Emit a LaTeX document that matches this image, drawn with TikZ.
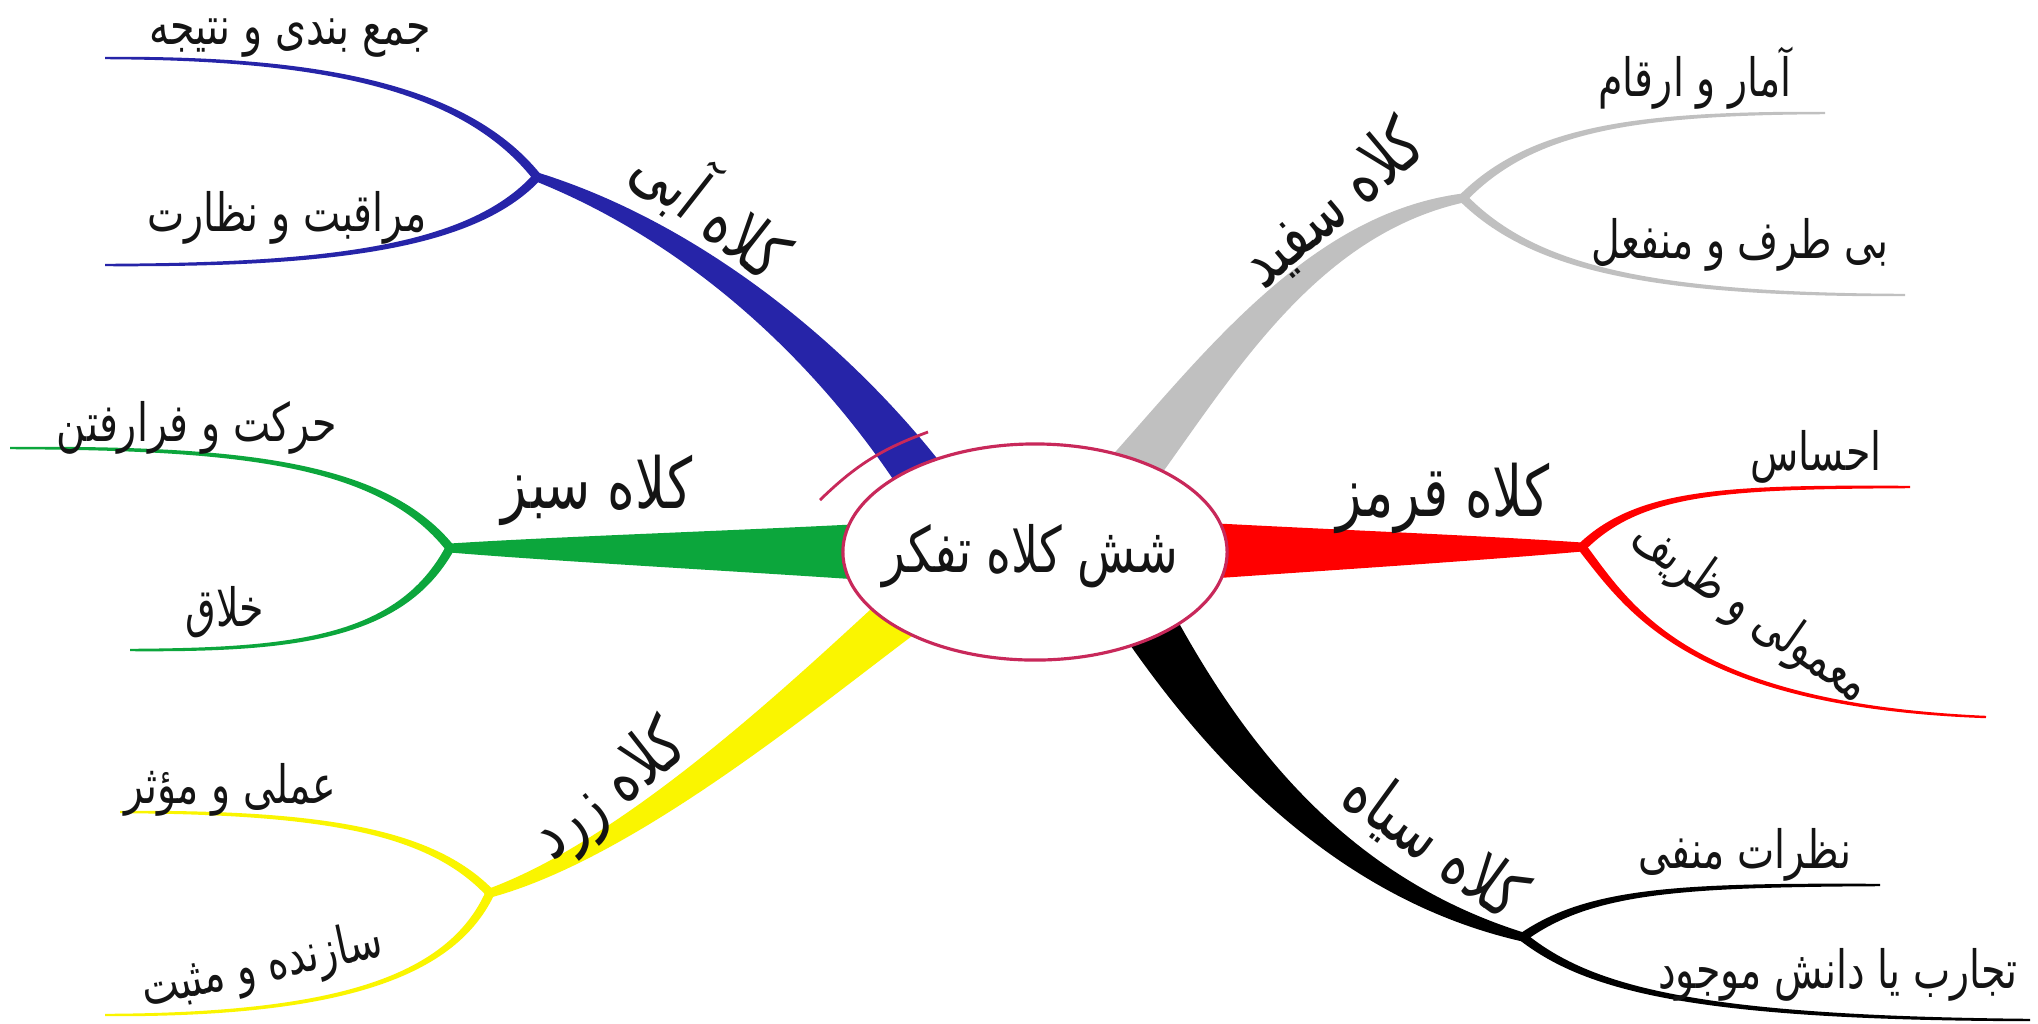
\documentclass[tikz,border=0pt]{standalone}
\usepackage{fontspec}
\newfontfamily\fa[Script=Arabic,FakeStretch=0.75]{DejaVu Sans}
\TeXXeTstate=1
\usetikzlibrary{calc,shapes.geometric}
\definecolor{hblue}{RGB}{38,36,168}
\definecolor{hgray}{RGB}{192,192,192}
\definecolor{hgreen}{RGB}{12,166,60}
\definecolor{hred}{RGB}{255,0,0}
\definecolor{hyellow}{RGB}{250,245,0}
\definecolor{hblack}{RGB}{0,0,0}
\definecolor{crim}{RGB}{200,40,90}
\definecolor{ink}{RGB}{20,20,20}
% tapered branch: #1 colour, #2 start, #3 ctrl1, #4 ctrl2, #5 end, #6 half width at start, #7 half width at end
\newcommand\tbranch[7]{%
  \pgfmathsetlengthmacro\tbwa{(2*#6+#7)/3}%
  \pgfmathsetlengthmacro\tbwb{(#6+2*#7)/3}%
  \fill[#1] ($(#2)!#6!90:(#3)$) .. controls ($(#3)!\tbwa!-90:(#2)$) and ($(#4)!\tbwb!90:(#5)$) .. ($(#5)!#7!-90:(#4)$)
    -- ($(#5)!#7!90:(#4)$) .. controls ($(#4)!\tbwb!-90:(#5)$) and ($(#3)!\tbwa!90:(#2)$) .. ($(#2)!#6!-90:(#3)$) -- cycle;}
\tikzset{
  leaf/.style={font=\fa\fontsize{15}{18}\selectfont, inner sep=0pt, text=ink},
  hat/.style={font=\fa\fontsize{20}{24}\selectfont, inner sep=0pt, text=ink},
  core/.style={ellipse, draw=crim, line width=0.9pt, fill=white, minimum width=3.84cm, minimum height=2.16cm, inner sep=0pt},
  coretext/.style={font=\fa\fontsize{18}{22}\selectfont, inner sep=0pt, text=ink}
}
\begin{document}
\begin{tikzpicture}[x=0.01cm,y=-0.01cm]
\useasboundingbox (0,0) rectangle (2038,1023);
\fill[white] (0,0) rectangle (2038,1023);
% ---------- coordinates ----------
% blue
\coordinate (bS) at (930,490); \coordinate (bC1) at (840,360); \coordinate (bC2) at (700,235); \coordinate (bF) at (537,177);
\coordinate (bu1) at (460,80); \coordinate (bu2) at (300,58); \coordinate (bUE) at (105,58);
\coordinate (bl1) at (470,250); \coordinate (bl2) at (320,265); \coordinate (bLE) at (105,265);
% gray (white hat)
\coordinate (wS) at (1125,480); \coordinate (wC1) at (1215,370); \coordinate (wC2) at (1310,225); \coordinate (wF) at (1463,198);
\coordinate (wu1) at (1530,130); \coordinate (wu2) at (1630,113); \coordinate (wUE) at (1825,113);
\coordinate (wl1) at (1530,265); \coordinate (wl2) at (1640,295); \coordinate (wLE) at (1905,295);
% green
\coordinate (gS) at (880,552); \coordinate (gC1) at (750,551); \coordinate (gC2) at (560,549); \coordinate (gF) at (450,548);
\coordinate (gu1) at (380,460); \coordinate (gu2) at (230,448); \coordinate (gUE) at (10,448);
\coordinate (gl1) at (400,640); \coordinate (gl2) at (290,650); \coordinate (gLE) at (130,650);
% red
\coordinate (rS) at (1190,551); \coordinate (rC1) at (1320,550); \coordinate (rC2) at (1480,548); \coordinate (rF) at (1582,547);
\coordinate (ru1) at (1640,490); \coordinate (ru2) at (1730,487); \coordinate (rUE) at (1910,487);
\coordinate (rl1) at (1630,610); \coordinate (rl2) at (1690,705); \coordinate (rLE) at (1986,717);
% yellow
\coordinate (yS) at (900,615); \coordinate (yC1) at (800,698); \coordinate (yC2) at (630,848); \coordinate (yF) at (490,893);
\coordinate (yu1) at (430,830); \coordinate (yu2) at (320,812); \coordinate (yUE) at (120,812);
\coordinate (yl1) at (450,980); \coordinate (yl2) at (330,1015); \coordinate (yLE) at (105,1015);
% black
\coordinate (kS) at (1140,610); \coordinate (kC1) at (1215,735); \coordinate (kC2) at (1330,885); \coordinate (kF) at (1523,937);
\coordinate (ku1) at (1590,890); \coordinate (ku2) at (1680,885); \coordinate (kUE) at (1880,885);
\coordinate (kl1) at (1590,990); \coordinate (kl2) at (1700,1018); \coordinate (kLE) at (2030,1020);
% ---------- branches ----------
\tbranch{hblue}{bS}{bC1}{bC2}{bF}{0.25cm}{0.045cm}
\tbranch{hblue}{bF}{bu1}{bu2}{bUE}{0.045cm}{0.012cm}
\tbranch{hblue}{bF}{bl1}{bl2}{bLE}{0.045cm}{0.012cm}
\tbranch{hgray}{wS}{wC1}{wC2}{wF}{0.26cm}{0.045cm}
\tbranch{hgray}{wF}{wu1}{wu2}{wUE}{0.045cm}{0.012cm}
\tbranch{hgray}{wF}{wl1}{wl2}{wLE}{0.045cm}{0.012cm}
\tbranch{hgreen}{gS}{gC1}{gC2}{gF}{0.29cm}{0.045cm}
\tbranch{hgreen}{gF}{gu1}{gu2}{gUE}{0.045cm}{0.012cm}
\tbranch{hgreen}{gF}{gl1}{gl2}{gLE}{0.045cm}{0.012cm}
\tbranch{hred}{rS}{rC1}{rC2}{rF}{0.29cm}{0.045cm}
\tbranch{hred}{rF}{ru1}{ru2}{rUE}{0.045cm}{0.012cm}
\tbranch{hred}{rF}{rl1}{rl2}{rLE}{0.045cm}{0.012cm}
\tbranch{hyellow}{yS}{yC1}{yC2}{yF}{0.24cm}{0.045cm}
\tbranch{hyellow}{yF}{yu1}{yu2}{yUE}{0.045cm}{0.012cm}
\tbranch{hyellow}{yF}{yl1}{yl2}{yLE}{0.045cm}{0.012cm}
\tbranch{hblack}{kS}{kC1}{kC2}{kF}{0.28cm}{0.045cm}
\tbranch{hblack}{kF}{ku1}{ku2}{kUE}{0.045cm}{0.012cm}
\tbranch{hblack}{kF}{kl1}{kl2}{kLE}{0.045cm}{0.012cm}
% ---------- centre ----------
\node[core] (c) at (1035,552) {};
\node[coretext] (ct) at (1030,556) {\beginR شش کلاه تفکر\endR};
\coordinate (t1) at (820,500); \coordinate (t2) at (928,432);
\draw[crim, line width=0.8pt] (t1) to[bend left=12] (t2);
% ---------- labels ----------
\node[hat, rotate=-38] (lb) at (713,208) {\beginR کلاه آبی\endR};
\node[leaf] (lb1) at (290,38) {\beginR جمع بندی و نتیجه\endR};
\node[leaf] (lb2) at (287,218) {\beginR مراقبت و نظارت\endR};
\node[hat, rotate=40] (lw) at (1332,205) {\beginR کلاه سفید\endR};
\node[leaf] (lw1) at (1695,78) {\beginR آمار و ارقام\endR};
\node[leaf] (lw2) at (1740,245) {\beginR بی طرف و منفعل\endR};
\node[hat] (lg) at (597,490) {\beginR کلاه سبز\endR};
\node[leaf] (lg1) at (197,428) {\beginR حرکت و فرارفتن\endR};
\node[leaf] (lg2) at (225,612) {\beginR خلاق\endR};
\node[hat] (lr) at (1443,498) {\beginR کلاه قرمز\endR};
\node[leaf] (lr1) at (1816,457) {\beginR احساس\endR};
\node[leaf, rotate=-35] (lr2) at (1750,613) {\beginR معمولی و ظریف\endR};
\node[hat, rotate=38] (ly) at (610,793) {\beginR کلاه زرد\endR};
\node[leaf] (ly1) at (230,790) {\beginR عملی و مؤثر\endR};
\node[leaf, rotate=12] (ly2) at (262,968) {\beginR سازنده و مثبت\endR};
\node[hat, rotate=-36] (lk) at (1434,845) {\beginR کلاه سیاه\endR};
\node[leaf] (lk1) at (1745,855) {\beginR نظرات منفی\endR};
\node[leaf] (lk2) at (1838,975) {\beginR تجارب یا دانش موجود\endR};
\end{tikzpicture}
\end{document}
